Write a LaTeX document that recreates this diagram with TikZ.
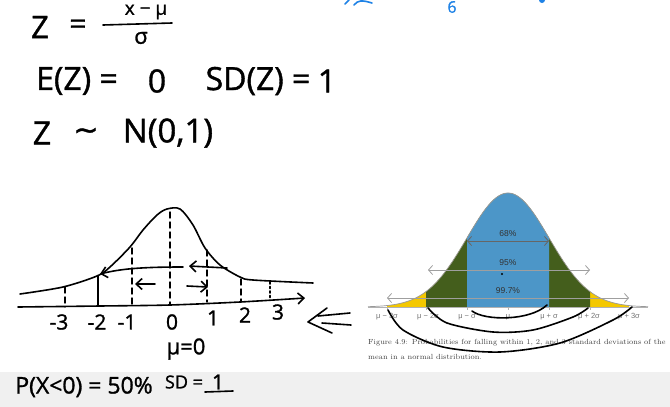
\documentclass[tikz,border=0pt]{standalone}
\usepackage{fontspec}
\newfontfamily\hand[FakeBold=1.2]{Open Sans}
\newfontfamily\handsym[FakeBold=1.2]{DejaVu Sans}
\newfontfamily\figsans{Liberation Sans}
\usetikzlibrary{arrows.meta}

\definecolor{sdblue}{RGB}{76,150,200}
\definecolor{sdgreen}{RGB}{68,94,28}
\definecolor{sdyellow}{RGB}{244,200,0}
\definecolor{inkblue}{RGB}{30,130,230}

\begin{document}
\begin{tikzpicture}[x=1pt,y=-1pt,
    ink/.style={line width=1.6pt,line cap=round,line join=round},
    inkdash/.style={ink,line width=1.4pt,dash pattern=on 6pt off 4pt},
    barb/.style={-{Straight Barb[length=6pt,width=11pt,line width=1.6pt]}},
    hw/.style={inner sep=0pt,font=\hand\fontsize{#1}{#1}\selectfont},
    pct/.style={inner sep=0pt,text=black!80,font=\figsans\fontsize{8.5}{9}\selectfont},
    sdtick/.style={inner sep=0pt,text=black!55,font=\figsans\fontsize{7.5}{8}\selectfont},
    rangearrow/.style={gray!75,line width=0.8pt,{Straight Barb[length=4pt,width=9pt]}-{Straight Barb[length=4pt,width=9pt]}}
]
\clip (0,0) rectangle (670,407);
\fill[white] (0,0) rectangle (670,407);
\fill[black!6] (0,372) rectangle (670,407);

% handwritten formulas
\node[hw=31] (zlhs) at (40,27) {Z};
\node[hw=30] (zeq) at (78,27) {=};
\node[hw=19] (xnum) at (146,12) {x − μ};
\draw[ink] (103,25) -- (172,23);
\node[hw=22] (zden) at (141,38) {σ};

\node[hw=32] (ez) at (77,81) {E(Z) =};
\node[hw=32] (ezval) at (157,81) {0};
\node[hw=32] (sdz) at (258,81) {SD(Z) =};
\node[hw=32] (sdzval) at (327,81) {1};

\node[hw=32] (zsim) at (42,133) {Z};
\node[font=\handsym\fontsize{30}{30}\selectfont,inner sep=0pt] (tilde) at (86,134) {∼};
\node[hw=33] (znorm) at (168,133) {N(0,1)};

% blue scribbles at the top
\draw[inkblue,ink] (345,4) -- (349,0);
\draw[inkblue,ink] (354,5) .. controls (358,0) and (362,0) .. (372,3);
\node[hw=16,text=inkblue] (six) at (452,7) {6};
\fill[inkblue] (542,0) circle (3);

% hand-drawn bell curve
\draw[ink] plot[smooth] coordinates {(20,294) (63,287) (97,276) (110,267) (130,247) (143,230) (157,215) (167,209) (180,209) (193,225) (205,248) (220,265) (240,277) (253,280) (313,283)};
\draw[ink,barb] plot[smooth] coordinates {(18,307) (100,306) (170,305) (240,302) (305,298)};
\draw[inkdash] (65,287) -- (65,307);
\draw[ink] (98,276) -- (98,306);
\draw[inkdash] (132,248) -- (132,306);
\draw[inkdash] (170,212) -- (170,305);
\draw[inkdash] (207,250) -- (207,302);
\draw[inkdash] (241,279) -- (241,302);
\draw[ink,dash pattern=on 2pt off 2.5pt] (270,282) -- (270,298);
\draw[ink,barb] (183,267) .. controls (140,267) and (120,269) .. (100,274);
\draw[ink,barb] (227,268) -- (189,266);
\draw[ink,barb] (155,284) -- (135,284);
\draw[ink,barb] (187,286) -- (208,287);

\node[hw=21] (lm3) at (59,322) {-3};
\node[hw=21] (lm2) at (97,322) {-2};
\node[hw=21] (lm1) at (127,322) {-1};
\node[hw=21] (l0) at (172,322) {0};
\node[hw=21] (l1) at (213,318) {1};
\node[hw=21] (l2) at (245,315) {2};
\node[hw=21] (l3) at (278,312) {3};
\node[hw=22] (mu0) at (186,349) {μ=0};

\node[hw=23] (pxl) at (84,387) {P(X<0) = 50\%};
\node[hw=18] (sdone) at (184,382) {SD =};
\node[hw=21] (sdonev) at (218,382) {1};
\draw[ink] (205,392) -- (233,391);

% double arrow pointing to the left sketch
\draw[ink] (318,316) -- (350,313);
\draw[ink] (322,323) -- (351,325);
\draw[ink] (327,308) -- (308,322) -- (332,333);

% textbook figure
\fill[sdyellow] (387,307) -- plot[domain=387:629,samples=80] (\x,{307-114*exp(-((\x-508)/41)^2/2)}) -- (629,307) -- cycle;
\fill[sdgreen] (426,307) -- plot[domain=426:590,samples=80] (\x,{307-114*exp(-((\x-508)/41)^2/2)}) -- (590,307) -- cycle;
\fill[sdblue] (467,307) -- plot[domain=467:549,samples=60] (\x,{307-114*exp(-((\x-508)/41)^2/2)}) -- (549,307) -- cycle;
\draw[gray!80,line width=0.7pt] plot[domain=368:648,samples=120] (\x,{307-114*exp(-((\x-508)/41)^2/2)});
\draw[gray!60,line width=0.8pt] (368,307) -- (648,307);
\foreach \t in {387,426,467,508,549,590,629}
  \draw[gray!60,line width=0.6pt] (\t,307) -- (\t,310);

\draw[rangearrow,black!60] (467,241) -- (549,241);
\draw[rangearrow] (428,270) -- (590,270);
\draw[rangearrow] (387,298) -- (629,298);
\node[pct] (p68) at (508,234) {68\%};
\node[pct] (p95) at (508,263) {95\%};
\node[pct] (p997) at (508,291) {99.7\%};
\fill (502,274) circle (1.2);

\node[sdtick] (s1) at (387,317) {μ − 3σ};
\node[sdtick] (s2) at (428,317) {μ − 2σ};
\node[sdtick] (s3) at (467,317) {μ − σ};
\node[sdtick] (s4) at (508,317) {μ};
\node[sdtick] (s5) at (549,317) {μ + σ};
\node[sdtick] (s6) at (589,317) {μ + 2σ};
\node[sdtick] (s7) at (629,317) {μ + 3σ};

\node[anchor=west,inner sep=0pt,text=black!75,font=\fontsize{7.4}{9}\selectfont] (cap1) at (368,343) {Figure 4.9: Probabilities for falling within 1, 2, and 3 standard deviations of the};
\node[anchor=west,inner sep=0pt,text=black!75,font=\fontsize{7.4}{9}\selectfont] (cap2) at (368,357) {mean in a normal distribution.};

% handwritten brackets under the figure
\draw[ink] (472,311) .. controls (485,321) and (530,321) .. (547,305);
\draw[ink] plot[smooth] coordinates {(428,308) (447,323) (493,332) (533,330) (573,317) (588,308)};
\draw[ink] plot[smooth] coordinates {(388,310) (403,330) (443,347) (500,352) (560,343) (613,320) (632,307)};
\end{tikzpicture}
\end{document}
